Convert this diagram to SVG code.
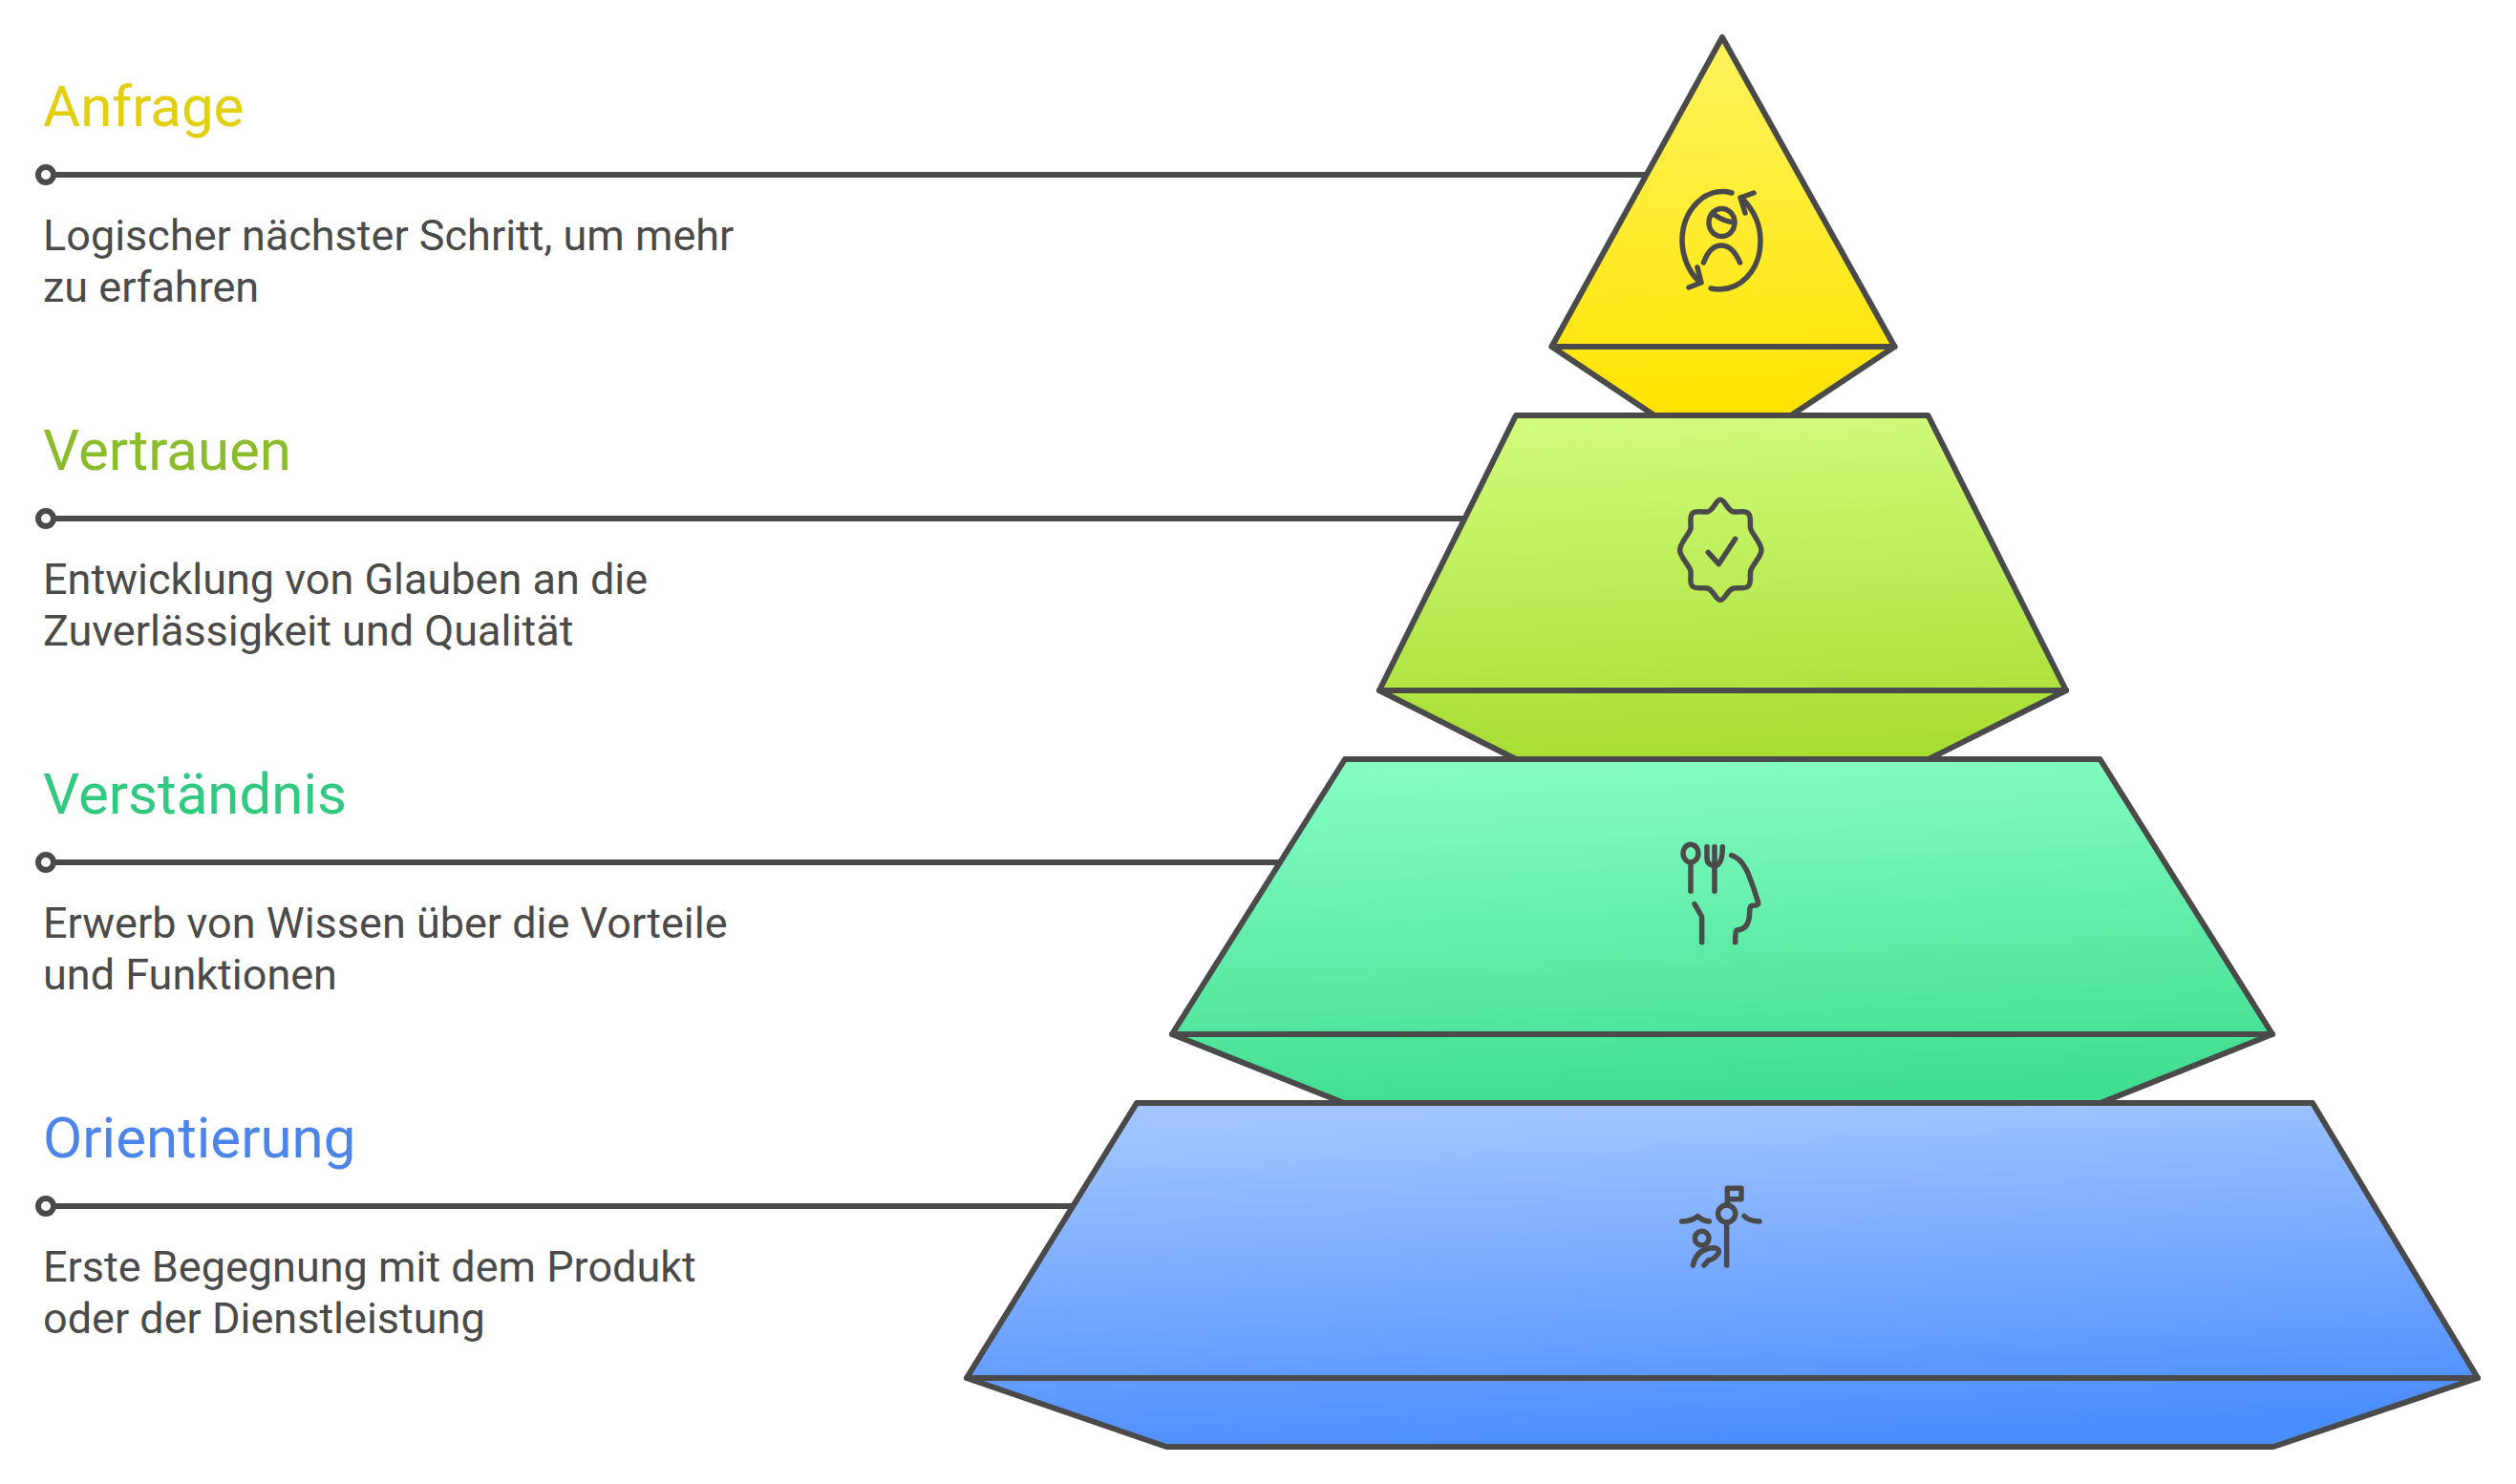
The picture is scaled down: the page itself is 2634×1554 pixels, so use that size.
<svg xmlns="http://www.w3.org/2000/svg" width="2634" height="1554" viewBox="0 0 2634 1554">
<style>
.title{font-family:Roboto,"Liberation Sans",sans-serif;font-size:60px}
.body{font-family:Roboto,"Liberation Sans",sans-serif;font-size:45px;fill:#4a4a4a}
.shape{stroke:#4a4a4a;stroke-width:6;stroke-linejoin:round}
.edge{fill:none;stroke:#4a4a4a;stroke-width:6;stroke-linecap:round;stroke-linejoin:round}
.line{stroke:#4a4a4a;stroke-width:6;fill:none}
.dot{stroke:#4a4a4a;stroke-width:6;fill:#fff}
.ico{fill:none;stroke:#4a4a4a;stroke-width:5.500;stroke-linecap:round;stroke-linejoin:round}
.ico3{fill:none;stroke:#4a4a4a;stroke-width:16.500;stroke-linecap:round;stroke-linejoin:round}
</style>
<defs>
<linearGradient id="g1" gradientUnits="userSpaceOnUse" x1="1796" y1="37" x2="1808" y2="435"><stop offset="0" stop-color="#fff35f"/><stop offset="1" stop-color="#ffe400"/></linearGradient>
<linearGradient id="g2" gradientUnits="userSpaceOnUse" x1="1794" y1="435" x2="1810" y2="795"><stop offset="0" stop-color="#d1fb7b"/><stop offset="1" stop-color="#a6dd31"/></linearGradient>
<linearGradient id="g3" gradientUnits="userSpaceOnUse" x1="1794" y1="795" x2="1810" y2="1155"><stop offset="0" stop-color="#84fcc2"/><stop offset="1" stop-color="#40de90"/></linearGradient>
<linearGradient id="g4" gradientUnits="userSpaceOnUse" x1="1794" y1="1155" x2="1810" y2="1515"><stop offset="0" stop-color="#a1c4ff"/><stop offset="1" stop-color="#4a8dff"/></linearGradient>
</defs>
<g id="connectors">
<line class="line" x1="56" y1="183" x2="1726" y2="183"/>
<line class="line" x1="56" y1="543" x2="1535" y2="543"/>
<line class="line" x1="56" y1="903" x2="1342" y2="903"/>
<line class="line" x1="56" y1="1263" x2="1125" y2="1263"/>
<circle class="dot" cx="48" cy="183" r="8"/>
<circle class="dot" cx="48" cy="543" r="8"/>
<circle class="dot" cx="48" cy="903" r="8"/>
<circle class="dot" cx="48" cy="1263" r="8"/>
</g>
<g id="level-anfrage">
<path class="shape" fill="url(#g1)" d="M1803 39L1983.500 363L1875 435H1732L1624.500 363Z"/>
<path class="edge" d="M1624.500 363H1983.500"/>
<g class="ico">
<path d="M1813 202C1784 194 1761 222 1761 252C1761 268 1768 284 1777 293"/>
<path d="M1777 280L1781 296L1768 301"/>
<path d="M1791 302C1822 308 1843 282 1843 252C1843 236 1836 220 1824 208"/>
<path d="M1836 202L1822 207L1827 223"/>
<ellipse cx="1802.5" cy="233" rx="13.5" ry="14.5"/>
<path d="M1795 225Q1805 232 1816 233"/>
<path d="M1783.500 275Q1790 257 1802 257Q1814 257 1821.500 275"/>
</g>
<text class="title" x="45" y="132" fill="#e2cf0f">Anfrage</text>
<text class="body" x="45" y="262">Logischer nächster Schritt, um mehr</text>
<text class="body" x="45" y="316">zu erfahren</text>
</g>
<g id="level-vertrauen">
<path class="shape" fill="url(#g2)" d="M1587 435H2018.500L2163 723L2019 795H1587L1444 723Z"/>
<path class="edge" d="M1444 723H2163"/>
<g class="ico3" transform="translate(1720 500) scale(.33333)">
<path d="M243 70C258 70 265 105 285 108C300 110 318 103 330 112C342 122 335 145 338 160C342 178 372 205 372 228C372 250 342 275 338 295C335 312 342 332 330 342C318 352 300 345 285 348C265 352 258 385 243 385C228 385 222 352 202 348C187 345 168 352 156 342C145 332 152 312 150 295C146 275 116 250 116 228C116 205 146 178 150 160C152 145 145 122 156 112C168 103 187 110 202 108C222 105 228 70 243 70Z"/>
<path d="M205 235L238 272L290 193"/>
</g>
<text class="title" x="45" y="492" fill="#8bbc2c">Vertrauen</text>
<text class="body" x="45" y="622">Entwicklung von Glauben an die</text>
<text class="body" x="45" y="676">Zuverlässigkeit und Qualität</text>
</g>
<g id="level-verstaendnis">
<path class="shape" fill="url(#g3)" d="M1408 795H2198.500L2379 1083L2199 1155H1407L1227 1083Z"/>
<path class="edge" d="M1227 1083H2379"/>
<g class="ico3" transform="translate(1720 860) scale(.33333)">
<ellipse cx="150" cy="101" rx="24" ry="28"/>
<path d="M150 130V220"/>
<path d="M201 80V115Q201 138 225 140Q250 138 250 80"/>
<path d="M225 80V220"/>
<path d="M278 107C320 120 335 170 362 255Q365 265 345 265Q335 265 335 285C335 315 325 340 295 342Q290 342 290 380"/>
<path d="M162 260L185 300V380"/>
</g>
<text class="title" x="45" y="852" fill="#2fc97f">Verständnis</text>
<text class="body" x="45" y="982">Erwerb von Wissen über die Vorteile</text>
<text class="body" x="45" y="1036">und Funktionen</text>
</g>
<g id="level-orientierung">
<path class="shape" fill="url(#g4)" d="M1190 1155H2421L2594 1443L2380 1515H1221L1012 1443Z"/>
<path class="edge" d="M1012 1443H2594"/>
<g class="ico3" transform="translate(1720 1225) scale(.33333)">
<path d="M265 110V58H309V92H265"/>
<circle cx="263" cy="138" r="27"/>
<path d="M263 165V300"/>
<path d="M122 162Q150 162 172 146Q190 162 208 162"/>
<path d="M318 145Q335 162 366 162"/>
<circle cx="185" cy="215" r="22"/>
<path d="M157 300Q170 245 225 245Q245 250 235 265Q225 280 205 285L192 300"/>
</g>
<text class="title" x="45" y="1212" fill="#4c85ea">Orientierung</text>
<text class="body" x="45" y="1342">Erste Begegnung mit dem Produkt</text>
<text class="body" x="45" y="1396">oder der Dienstleistung</text>
</g>
</svg>
